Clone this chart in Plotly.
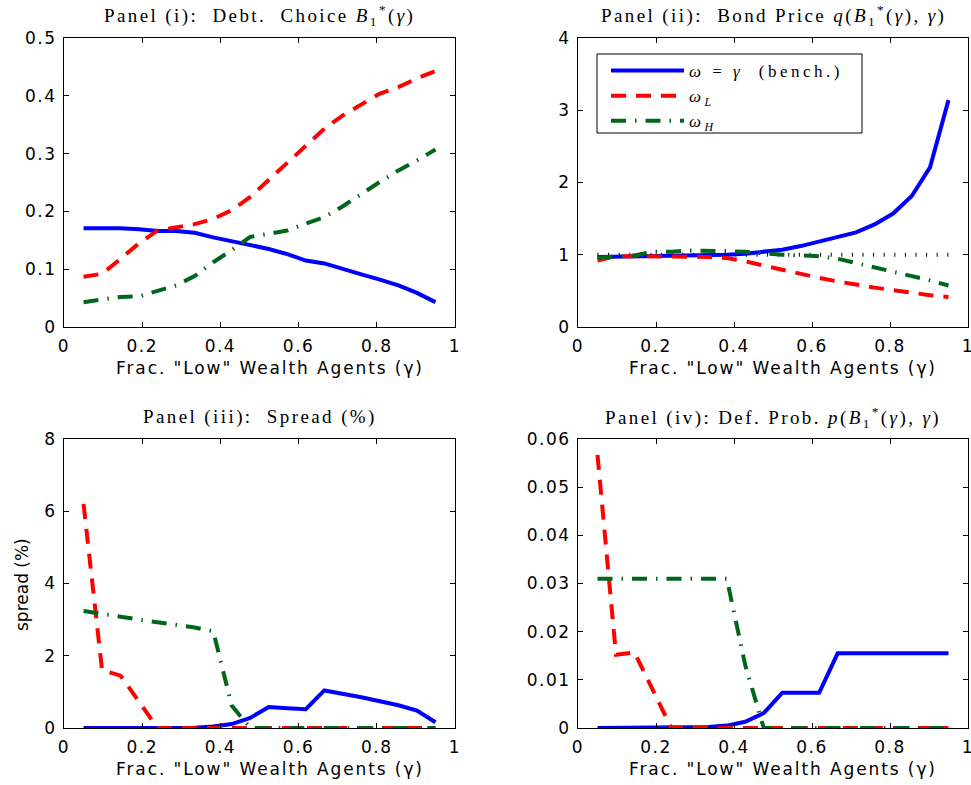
import plotly.graph_objects as go

W, H = 971, 785

# ---------------- data ----------------
gamma = [0.05, 0.0974, 0.1447, 0.1921, 0.2395, 0.2868, 0.3342, 0.3816, 0.4289, 0.4763,
         0.5237, 0.5711, 0.6184, 0.6658, 0.7132, 0.7605, 0.8079, 0.8553, 0.9026, 0.95]

debt_bench = [0.171, 0.171, 0.171, 0.169, 0.166, 0.166, 0.163, 0.155, 0.148, 0.141,
              0.135, 0.126, 0.115, 0.110, 0.100, 0.091, 0.082, 0.072, 0.059, 0.043]
debt_L = [0.087, 0.092, 0.118, 0.145, 0.167, 0.173, 0.178, 0.187, 0.202, 0.225,
          0.254, 0.285, 0.314, 0.343, 0.366, 0.386, 0.404, 0.415, 0.430, 0.443]
debt_H = [0.043, 0.047, 0.052, 0.053, 0.063, 0.072, 0.088, 0.112, 0.133, 0.156,
          0.161, 0.167, 0.179, 0.190, 0.209, 0.231, 0.251, 0.271, 0.288, 0.307]

price_bench = [0.97, 0.975, 0.978, 0.98, 0.98, 0.985, 0.99, 1.0, 1.015, 1.04,
               1.07, 1.12, 1.18, 1.24, 1.31, 1.42, 1.57, 1.81, 2.21, 3.14]
price_L = [0.92, 0.98, 0.98, 0.98, 0.98, 0.98, 0.97, 0.955, 0.91, 0.85,
           0.79, 0.74, 0.68, 0.63, 0.585, 0.545, 0.51, 0.47, 0.44, 0.415]
price_H = [0.96, 0.98, 0.99, 1.04, 1.04, 1.06, 1.06, 1.05, 1.04, 1.015,
           1.0, 0.99, 0.98, 0.945, 0.885, 0.83, 0.77, 0.70, 0.645, 0.575]
price_par = [1.0, 1.0, 1.0, 1.0, 1.0, 1.0, 1.0, 1.0, 1.0, 1.0,
             1.0, 1.0, 1.0, 1.0, 1.0, 1.0, 1.0, 1.0, 1.0, 1.0]

spread_bench = [0, 0, 0, 0, 0, 0.003, 0.01, 0.04, 0.11, 0.28,
                0.58, 0.55, 0.52, 1.04, 0.95, 0.85, 0.74, 0.63, 0.48, 0.16]
spread_L = [6.2, 1.6, 1.45, 0.72, 0, 0, 0, 0, 0, 0,
            0, 0, 0, 0, 0, 0, 0, 0, 0, 0]
spread_H = [3.24, 3.17, 3.08, 3.0, 2.93, 2.86, 2.78, 2.68, 0.62, 0,
            0, 0, 0, 0, 0, 0, 0, 0, 0, 0]

prob_bench = [0, 0, 0, 0, 0, 0.0001, 0.0002, 0.0005, 0.0013, 0.0031,
              0.0073, 0.0073, 0.0073, 0.0155, 0.0155, 0.0155, 0.0155, 0.0155, 0.0155, 0.0155]
prob_L = [0.0567, 0.0152, 0.0157, 0.0078, 0, 0, 0, 0, 0, 0,
          0, 0, 0, 0, 0, 0, 0, 0, 0, 0]
prob_H = [0.031, 0.031, 0.031, 0.031, 0.031, 0.031, 0.031, 0.031, 0.013, 0,
          0, 0, 0, 0, 0, 0, 0, 0, 0, 0]

series_names = ["<i>ω</i> = <i>γ</i>  (bench.)", "<i>ω</i><sub><i>L</i></sub>", "<i>ω</i><sub><i>H</i></sub>"]
panel_titles = [
    "Panel (i):  Debt.  Choice <i>B</i><sub>1</sub><sup>*</sup>(<i>γ</i>)",
    "Panel (ii):  Bond Price <i>q</i>(<i>B</i><sub>1</sub><sup>*</sup>(<i>γ</i>), <i>γ</i>)",
    "Panel (iii):  Spread (%)",
    "Panel (iv): Def. Prob. <i>p</i>(<i>B</i><sub>1</sub><sup>*</sup>(<i>γ</i>), <i>γ</i>)",
]
x_title = 'Frac. "Low" Wealth Agents (γ)'
y_title_iii = "spread (%)"

x_tickvals = [0, 0.2, 0.4, 0.6, 0.8, 1]
x_ticklabels = ["0", "0.2", "0.4", "0.6", "0.8", "1"]
y_tickvals = [
    [0, 0.1, 0.2, 0.3, 0.4, 0.5],
    [0, 1, 2, 3, 4],
    [0, 2, 4, 6, 8],
    [0, 0.01, 0.02, 0.03, 0.04, 0.05, 0.06],
]
y_ticklabels = [
    ["0", "0.1", "0.2", "0.3", "0.4", "0.5"],
    ["0", "1", "2", "3", "4"],
    ["0", "2", "4", "6", "8"],
    ["0", "0.01", "0.02", "0.03", "0.04", "0.05", "0.06"],
]
y_ranges = [[0, 0.5], [0, 4], [0, 8], [0, 0.06]]

# ---------------- styling ----------------
BLUE, RED, GREEN = "#0000ff", "#ff0000", "#00661a"
LW = 4
RED_DASH = "15px,10px"
GREEN_DASH = "15px,9px,1.5px,9px"
SANS = "DejaVu Sans, Liberation Sans, sans-serif"
SERIF = "Liberation Serif, Times New Roman, serif"

# panel pixel boxes (left, right, top, bottom)
boxes = [(64, 455, 38, 327), (578, 968, 38, 327), (64, 455, 439, 728), (578, 968, 439, 728)]
legend_box = (597, 862, 54, 133)


def px_x(x):
    return x / W


def px_y(y):
    return 1 - y / H


def spaced(txt, ls):
    return f'<span style="letter-spacing:{ls}px">{txt}</span>'


fig = go.Figure()

data_sets = [
    (debt_bench, debt_L, debt_H),
    (price_bench, price_L, price_H),
    (spread_bench, spread_L, spread_H),
    (prob_bench, prob_L, prob_H),
]

LEG_LS = 3.5
for i, (b, l, h) in enumerate(data_sets):
    xa = "x" if i == 0 else f"x{i+1}"
    ya = "y" if i == 0 else f"y{i+1}"
    show = (i == 1)
    if i == 1:
        fig.add_trace(go.Scatter(x=gamma, y=price_par, mode="lines", xaxis=xa, yaxis=ya,
                                 line=dict(color="black", width=4, dash="1px,9.6px"),
                                 showlegend=False, hoverinfo="skip"))
    fig.add_trace(go.Scatter(x=gamma, y=b, mode="lines", name=spaced(series_names[0], LEG_LS), xaxis=xa, yaxis=ya,
                             line=dict(color=BLUE, width=LW), showlegend=show))
    fig.add_trace(go.Scatter(x=gamma, y=l, mode="lines", name=spaced(series_names[1], LEG_LS), xaxis=xa, yaxis=ya,
                             line=dict(color=RED, width=LW, dash=RED_DASH), showlegend=show))
    fig.add_trace(go.Scatter(x=gamma, y=h, mode="lines", name=spaced(series_names[2], LEG_LS), xaxis=xa, yaxis=ya,
                             line=dict(color=GREEN, width=LW, dash=GREEN_DASH), showlegend=show))

axis_common = dict(showline=True, linecolor="black", linewidth=1, mirror="allticks",
                   ticks="inside", ticklen=5, tickcolor="black", tickwidth=1,
                   showgrid=False, zeroline=False, automargin=False,
                   ticklabeloverflow="allow",
                   tickfont=dict(family=SANS, size=17, color="black"))

TICK_LS = 1.5
layout_axes = {}
for i, (l, r, t, bt) in enumerate(boxes):
    xk = "xaxis" if i == 0 else f"xaxis{i+1}"
    yk = "yaxis" if i == 0 else f"yaxis{i+1}"
    xa = "x" if i == 0 else f"x{i+1}"
    ya = "y" if i == 0 else f"y{i+1}"
    layout_axes[xk] = dict(axis_common, domain=[px_x(l), px_x(r)], range=[0, 1],
                           tickmode="array", tickvals=x_tickvals,
                           ticktext=[spaced(s, TICK_LS) for s in x_ticklabels],
                           anchor=ya, ticklabelstandoff=4)
    layout_axes[yk] = dict(axis_common, domain=[px_y(bt), px_y(t)], range=y_ranges[i],
                           tickmode="array", tickvals=y_tickvals[i],
                           ticktext=[spaced(s, TICK_LS) for s in y_ticklabels[i]],
                           anchor=xa, ticklabelstandoff=3)

annotations = []
for i, (l, r, t, bt) in enumerate(boxes):
    cx = (l + r) / 2
    annotations.append(dict(text=spaced(panel_titles[i], 2.4), x=px_x(cx), y=px_y(t - 22),
                            xref="paper", yref="paper",
                            xanchor="center", yanchor="middle", showarrow=False,
                            font=dict(family=SERIF, size=19, color="black")))
    annotations.append(dict(text=spaced(x_title, 1.9), x=px_x(cx + 10), y=px_y(bt + 41),
                            xref="paper", yref="paper",
                            xanchor="center", yanchor="middle", showarrow=False,
                            font=dict(family=SANS, size=17, color="black")))
annotations.append(dict(text=y_title_iii, x=px_x(22), y=px_y(585), xref="paper", yref="paper",
                        xanchor="center", yanchor="middle", textangle=-90, showarrow=False,
                        font=dict(family=SANS, size=17, color="black")))

lb = legend_box
shapes = [dict(type="rect", xref="paper", yref="paper",
               x0=px_x(lb[0]), x1=px_x(lb[1]), y0=px_y(lb[3]), y1=px_y(lb[2]),
               line=dict(color="black", width=1), fillcolor="white", layer="above")]

fig.update_layout(
    width=W, height=H,
    margin=dict(l=0, r=0, t=0, b=0, pad=0, autoexpand=False),
    paper_bgcolor="white", plot_bgcolor="white",
    annotations=annotations,
    shapes=shapes,
    showlegend=True,
    legend=dict(x=px_x(606), y=px_y(53), xanchor="left", yanchor="top",
                bgcolor="rgba(0,0,0,0)", borderwidth=0,
                itemwidth=73, tracegroupgap=0,
                font=dict(family=SERIF, size=17, color="black")),
    **layout_axes,
)

fig.write_html("out.html", config={"displayModeBar": False},
               post_script="document.body.style.margin='0px';document.body.style.overflow='hidden';")
